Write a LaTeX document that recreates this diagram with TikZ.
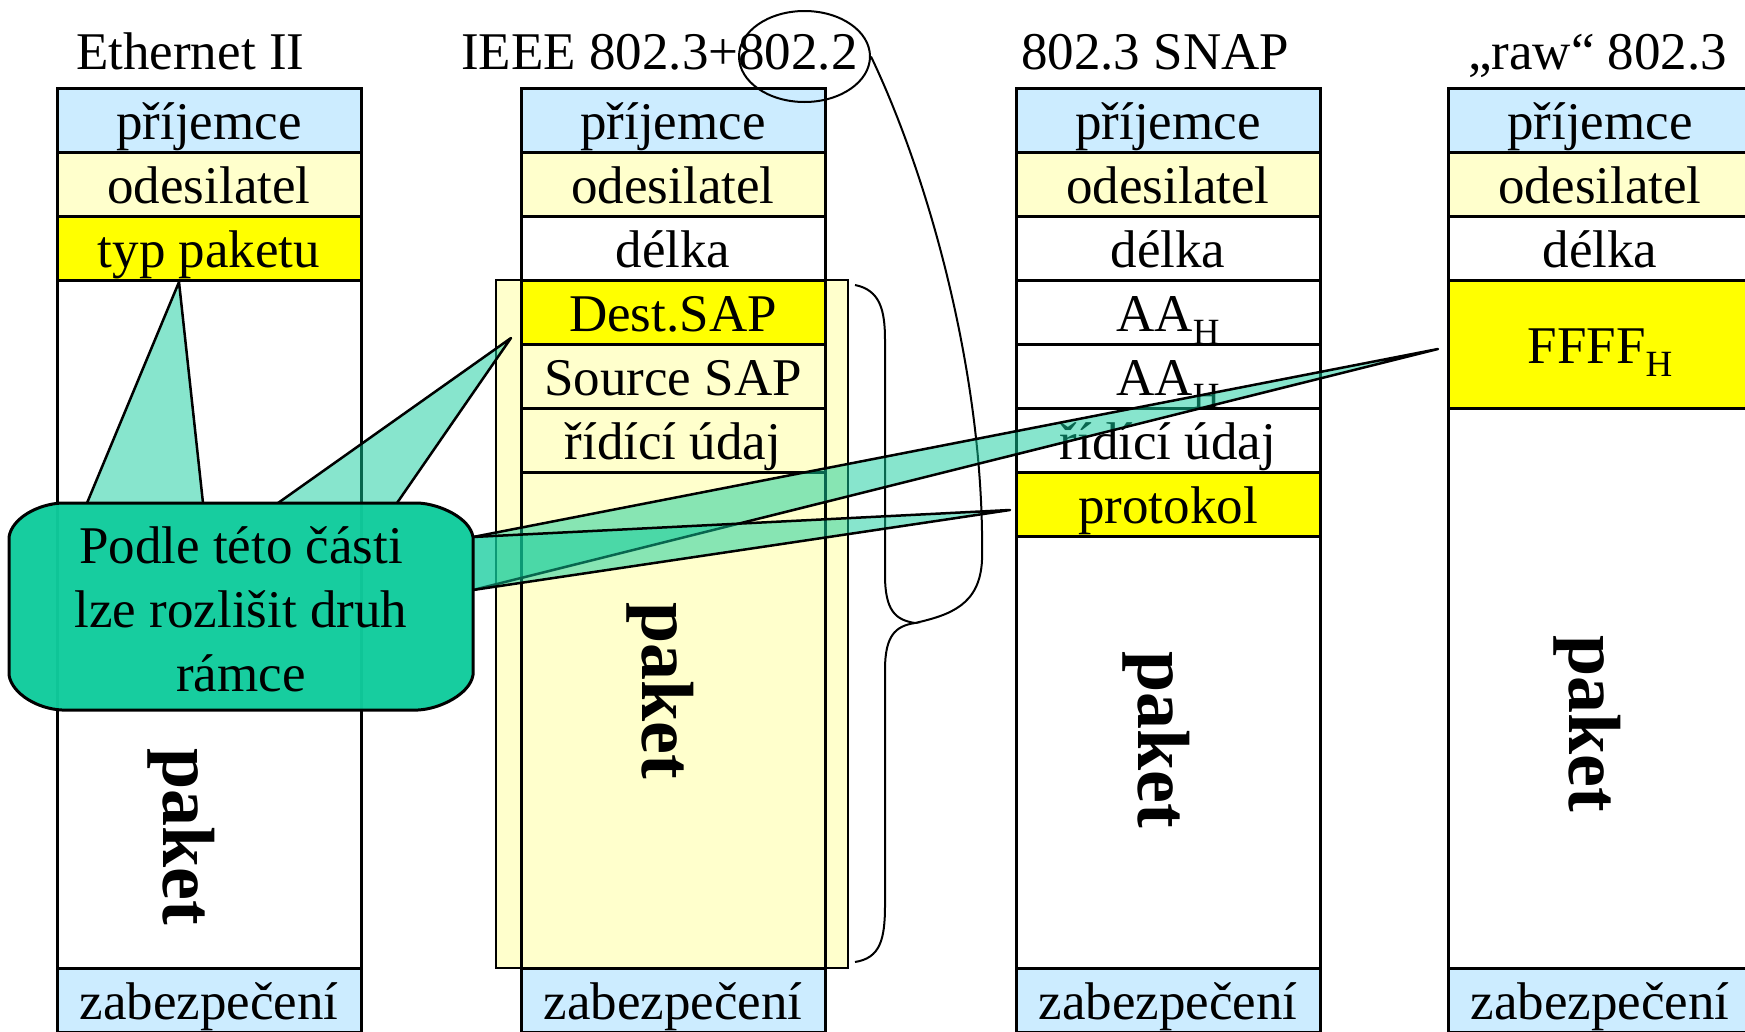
\documentclass[tikz,border=0pt]{standalone}
\usepackage{fontspec}
\setmainfont{Liberation Serif}
\usepackage{tikz}
\usetikzlibrary{positioning}
\usetikzlibrary{shapes.geometric}
\definecolor{lblue}{RGB}{204,236,255}
\definecolor{lyellow}{RGB}{255,255,204}
\definecolor{hyellow}{RGB}{255,255,0}
\definecolor{callout}{RGB}{16,204,156}
\newcommand\cellfont{\fontsize{53}{64}\selectfont}
\newcommand\paketfont{\fontsize{74}{80}\selectfont\bfseries}
\newcommand\hsub[1]{\raisebox{-0.25em}{\fontsize{37}{40}\selectfont #1}}
\tikzstyle{field}=[draw, line width=3pt, outer sep=0pt, minimum width=304pt, minimum height=64pt, inner sep=0pt, text height=38pt, text depth=0pt, font=\cellfont]
\tikzstyle{rcv}=[field, fill=lblue]
\tikzstyle{snd}=[field, fill=lyellow]
\tikzstyle{key}=[field, fill=hyellow]
\tikzstyle{title}=[anchor=base west, inner sep=0pt, font=\cellfont]
\tikzstyle{paketlbl}=[rotate=-90, inner sep=0pt, font=\paketfont]
\tikzstyle{pointer}=[draw, line width=2.5pt, line join=round, fill=callout, fill opacity=0.5]

\begin{document}
\begin{tikzpicture}[x=1pt, y=-1pt]
        \fill[white] (0,0) rectangle (1745,1031);
        \useasboundingbox (0,0) rectangle (1745,1031);
        % titles
        \node[title] (t1) at (76,69) {Ethernet II};
        \node[title] (t2) at (461,69) {IEEE 802.3+802.2};
        \node[title] (t3) at (1021,69) {802.3 SNAP};
        \node[title] (t4) at (1468,69) {„raw“ 802.3};
        % Ethernet II
        \node[rcv] (e1) at (209,120) {příjemce};
        \node[snd, below=0pt of e1] (e2) {odesilatel};
        \node[key, below=0pt of e2] (e3) {typ paketu};
        \node[field, minimum height=688pt, below=0pt of e3] (e4) {};
        \node[rcv, below=0pt of e4] (e5) {zabezpečení};
        \node[paketlbl] (e4t) at (181,837) {paket};
        % IEEE 802.3 + 802.2
        \draw[line width=2.5pt, fill=lyellow] (496,280) rectangle (848,968);
        \node[rcv] (i1) at (673,120) {příjemce};
        \node[snd, below=0pt of i1] (i2) {odesilatel};
        \node[field, below=0pt of i2] (i3) {délka};
        \node[key, below=0pt of i3] (i4) {Dest.SAP};
        \node[field, below=0pt of i4] (i5) {Source SAP};
        \node[field, below=0pt of i5] (i6) {řídící údaj};
        \node[snd, minimum height=496pt, below=0pt of i6] (i7) {};
        \node[rcv, below=0pt of i7] (i8) {zabezpečení};
        \node[paketlbl] (i7t) at (660,691) {paket};
        % 802.3 SNAP
        \node[rcv] (s1) at (1168,120) {příjemce};
        \node[snd, below=0pt of s1] (s2) {odesilatel};
        \node[field, below=0pt of s2] (s3) {délka};
        \node[field, below=0pt of s3] (s4) {AA\hsub{H}};
        \node[field, below=0pt of s4] (s5) {AA\hsub{H}};
        \node[field, below=0pt of s5] (s6) {řídící údaj};
        \node[key, below=0pt of s6] (s7) {protokol};
        \node[field, minimum height=432pt, below=0pt of s7] (s8) {};
        \node[rcv, below=0pt of s8] (s9) {zabezpečení};
        \node[paketlbl] (s8t) at (1156,740) {paket};
        % raw 802.3
        \node[rcv] (r1) at (1600,120) {příjemce};
        \node[snd, below=0pt of r1] (r2) {odesilatel};
        \node[field, below=0pt of r2] (r3) {délka};
        \node[key, minimum height=128pt, below=0pt of r3] (r4) {FFFF\hsub{H}};
        \node[field, minimum height=560pt, below=0pt of r4] (r5) {};
        \node[rcv, below=0pt of r5] (r6) {zabezpečení};
        \node[paketlbl] (r5t) at (1587,724) {paket};
        % 802.2 part
        \node[draw, ellipse, line width=2pt, minimum width=131pt, minimum height=91pt] (ring) at (804.5,56.5) {};
        \coordinate (brtip) at (915,623);
        \draw[line width=2pt] (855,285) .. controls (880,290) and (885,310) .. (885,340) -- (885,575)
            .. controls (885,610) and (895,620) .. (brtip)
            .. controls (895,626) and (885,636) .. (885,670) -- (885,905)
            .. controls (885,940) and (880,958) .. (855,962);
        \draw[line width=2pt] (ring.east) .. controls (930,180) and (985,380) .. (982,560)
            .. controls (980,605) and (950,615) .. (brtip);
        % pointers
        \coordinate (pA) at (179,282);
        \coordinate (pB) at (511,338);
        \coordinate (pC) at (1438,349);
        \coordinate (pD) at (1010,510);
        \draw[pointer] (87,503) -- (pA) -- (203,503);
        \draw[pointer] (278,503) -- (pB) -- (397,503);
        \draw[pointer] (473,537) -- (pC) -- (473,590);
        \draw[pointer] (473,537) -- (pD) -- (473,590);
        % callout
        \draw[line width=3pt, fill=callout, fill opacity=0.97] (62,503) -- (418,503)
            .. controls (440,504) and (470,518) .. (473,537) -- (473,675)
            .. controls (470,694) and (440,709) .. (418,710) -- (62,710)
            .. controls (38,709) and (12,694) .. (9,675) -- (9,537)
            .. controls (12,518) and (38,504) .. (62,503) -- cycle;
        \node[align=center, font=\cellfont] (note) at (241,609) {Podle této části\\lze rozlišit druh\\rámce};
    \end{tikzpicture}
\end{document}
